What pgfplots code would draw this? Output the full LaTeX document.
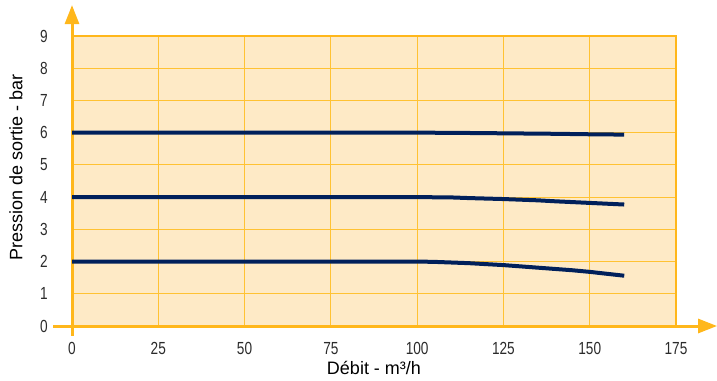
\documentclass[border=0pt]{standalone}
\usepackage{pgfplots}
\pgfplotsset{compat=1.18}
\usepackage{fontspec}
\setmainfont{Liberation Sans}
\newfontfamily\tickfont[FakeStretch=0.78]{Liberation Sans}
\usetikzlibrary{arrows.meta}
\definecolor{bgc}{HTML}{FEEAC6}
\definecolor{axc}{HTML}{FFB71B}
\definecolor{grc}{HTML}{FFC233}
\definecolor{navy}{HTML}{00205B}
\definecolor{txt}{HTML}{2B2B2B}
\begin{document}
\begin{tikzpicture}[x=1pt,y=1pt]
\useasboundingbox (0,0) rectangle (717,380);
\begin{axis}[at={(72pt,54pt)}, anchor=south west, scale only axis,
  width=604pt, height=290pt,
  xmin=0, xmax=175, ymin=0, ymax=9,
  xtick={0,25,...,175}, ytick={0,1,...,9},
  grid=major, major grid style={draw=grc, line width=1pt},
  axis line style={draw=none},
  axis background/.style={fill=bgc},
  major tick length=0pt,
  clip=false,
  /pgf/number format/assume math mode=true,
  tick label style={font={\fontsize{17.5}{19}\tickfont}, text=txt, inner sep=0pt},
  yticklabel style={anchor=east, xshift=-24pt},
  xticklabel style={anchor=north, yshift=-16pt},
  xlabel={Débit - m³/h},
  xlabel style={font=\fontsize{18}{20}\selectfont, text=black, at={(axis description cs:0.5,0)}, anchor=center, yshift=-42pt, inner sep=0pt},
  ylabel={Pression de sortie - bar},
  ylabel style={font=\fontsize{18}{20}\selectfont, text=black, at={(axis description cs:0,0.545)}, anchor=center, yshift=56pt, inner sep=0pt},
]
\draw[axc, line width=2pt] (axis cs:0,9) -- (axis cs:175,9) -- (axis cs:175,0);
\draw[axc, line width=3pt, -{Triangle[width=14pt,length=19pt]}] (axis cs:0,-0.31) -- (axis cs:0,9.96);
\draw[axc, line width=3pt, -{Triangle[width=14pt,length=19pt]}] (axis cs:-5.5,0) -- (axis cs:186.9,0);
\addplot[navy, line width=4pt, line cap=butt, line join=round] coordinates {
(0,6)(100,6)(110,5.995)(120,5.985)(130,5.975)(140,5.965)(150,5.95)(160,5.94)};
\addplot[navy, line width=4pt, line cap=butt, line join=round] coordinates {
(0,4)(100,4)(105,3.995)(110,3.99)(115,3.97)(120,3.955)(125,3.94)(130,3.92)(135,3.9)(140,3.87)(145,3.845)(150,3.82)(155,3.795)(160,3.77)};
\addplot[navy, line width=4pt, line cap=butt, line join=round] coordinates {
(0,2)(100,2)(105,1.99)(110,1.97)(115,1.95)(120,1.92)(125,1.89)(130,1.85)(135,1.81)(140,1.77)(145,1.73)(150,1.68)(155,1.62)(160,1.56)};
\end{axis}
\end{tikzpicture}
\end{document}
